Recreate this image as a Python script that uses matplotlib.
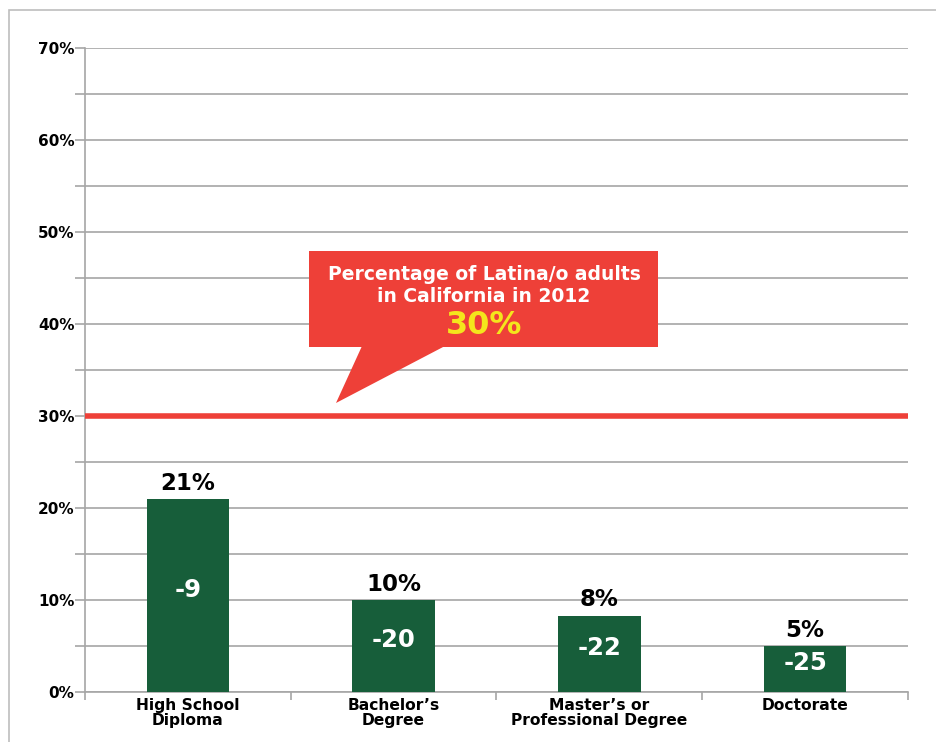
import matplotlib.pyplot as plt
from matplotlib.patches import Polygon, Rectangle

categories = ["High School\nDiploma", "Bachelor\u2019s\nDegree",
              "Master\u2019s or\nProfessional Degree", "Doctorate"]
shares = [21, 10, 8.3, 5]
share_labels = ["21%", "10%", "8%", "5%"]
gaps = ["-9", "-20", "-22", "-25"]
population_share = 30
yticks = [0, 5, 10, 15, 20, 25, 30, 35, 40, 45, 50, 55, 60, 65, 70]

GREEN = "#175e3a"
RED = "#ee4038"
YELLOW = "#f4e61c"
GRID = "#a6a6a6"
FONT = "DejaVu Sans"


def main():
    fig = plt.figure(figsize=(9.37, 7.42), dpi=100)
    # grey frame around the chart
    fig.patches.append(Rectangle((9 / 937, -0.1), 1.2, 1.1 - 10 / 742, transform=fig.transFigure,
                                 fill=False, edgecolor="#bdbdbd", linewidth=1.2))
    ax = fig.add_axes([85 / 937, 1 - 692 / 742, 823 / 937, 644 / 742])

    x = range(len(categories))
    ax.bar(x, shares, width=0.4, color=GREEN, zorder=3)
    ax.axhline(population_share, color=RED, linewidth=4, zorder=4)

    for i, v in enumerate(shares):
        ax.annotate(share_labels[i], (i, v), xytext=(0, 3), textcoords="offset points",
                    ha="center", va="bottom", fontsize=16.5, fontweight="bold",
                    family=FONT, color="black", zorder=5)
        ax.text(i, v / 2 + 0.6, gaps[i], ha="center", va="center", fontsize=17.5,
                fontweight="bold", family=FONT, color="white", zorder=5)

    ax.set_xlim(-0.5, len(categories) - 0.5)
    ax.set_ylim(0, 70)
    ax.set_yticks(yticks)
    ax.set_yticklabels([f"{t}%" if t % 10 == 0 else "" for t in yticks],
                       fontsize=11, fontweight="bold", family=FONT)
    ax.set_xticks([i + 0.5 for i in range(-1, len(categories))])
    ax.set_xticklabels([])
    ax.set_xticks(list(x), minor=True)
    ax.set_xticklabels(categories, minor=True, fontsize=11.2, fontweight="bold",
                       family=FONT, linespacing=0.95)
    ax.tick_params(axis="x", which="minor", length=0, pad=4.5)
    ax.tick_params(axis="x", which="major", length=6, color=GRID, width=1.2)
    ax.tick_params(axis="y", length=7, color=GRID, width=1.2, pad=0.5)
    ax.grid(axis="y", color=GRID, linewidth=1.2, zorder=0)
    for side in ["top", "right"]:
        ax.spines[side].set_visible(False)
    for side in ["left", "bottom"]:
        ax.spines[side].set_color(GRID)
        ax.spines[side].set_linewidth(1.2)

    # callout box (axes fraction coordinates)
    def fx(px):
        return (px - 85) / 823

    def fy(py):
        return (692 - py) / 644

    box = Rectangle((fx(309), fy(347)), fx(658) - fx(309), fy(251) - fy(347),
                    transform=ax.transAxes, facecolor=RED, edgecolor="none", zorder=6)
    pointer = Polygon([(fx(362), fy(346)), (fx(445), fy(346)), (fx(336), fy(403))],
                      closed=True, transform=ax.transAxes, facecolor=RED,
                      edgecolor="none", zorder=6)
    ax.add_patch(box)
    ax.add_patch(pointer)
    ax.text(fx(484), fy(285), "Percentage of Latina/o adults\nin California in 2012",
            transform=ax.transAxes, ha="center", va="center", fontsize=13.5,
            fontweight="bold", family=FONT, color="white", linespacing=1.2, zorder=7)
    ax.text(fx(484), fy(325), f"{population_share}%", transform=ax.transAxes,
            ha="center", va="center", fontsize=23, fontweight="bold", family=FONT,
            color=YELLOW, zorder=7)

    fig.savefig("out.png", dpi=100)


if __name__ == '__main__':
    main()
